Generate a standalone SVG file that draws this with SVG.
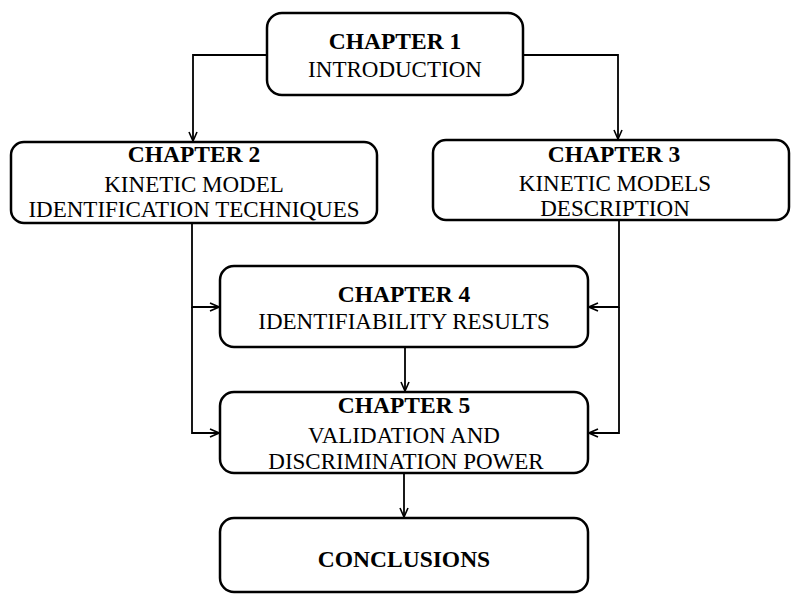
<svg xmlns="http://www.w3.org/2000/svg" width="793" height="594" viewBox="0 0 793 594">
<style>
.box{fill:#fff;stroke:#000;stroke-width:2.5}
.t{font-family:"Liberation Serif","Times New Roman",serif;fill:#000;text-anchor:middle}
.b{font-weight:bold;font-size:23.5px}
.r{font-size:23px}
.c{fill:none;stroke:#000;stroke-width:1.8}
</style>
<defs>
<marker id="ah" viewBox="0 0 10 10" refX="10" refY="5" markerWidth="10" markerHeight="10" markerUnits="userSpaceOnUse" orient="auto">
<polyline points="1,1 10,5 1,9" fill="none" stroke="#000" stroke-width="1.6"/>
</marker>
</defs>
<rect width="793" height="594" fill="#fff"/>
<g id="connectors">
<polyline class="c" points="267,55 193,55 193,141" marker-end="url(#ah)"/>
<polyline class="c" points="523,55 618,55 618,139" marker-end="url(#ah)"/>
<polyline class="c" points="192,223 192,307 219,307" marker-end="url(#ah)"/>
<polyline class="c" points="192,307 192,433 219,433" marker-end="url(#ah)"/>
<polyline class="c" points="619,220 619,307 589,307" marker-end="url(#ah)"/>
<polyline class="c" points="619,307 619,433 589,433" marker-end="url(#ah)"/>
<line class="c" x1="405" y1="347" x2="405" y2="391" marker-end="url(#ah)"/>
<line class="c" x1="404" y1="473" x2="404" y2="517" marker-end="url(#ah)"/>
</g>
<g id="ch1">
<rect class="box" x="267" y="13" width="256" height="82" rx="15"/>
<text class="t b" x="395" y="49">CHAPTER 1</text>
<text class="t r" x="395" y="77">INTRODUCTION</text>
</g>
<g id="ch2">
<rect class="box" x="11" y="142" width="366" height="81" rx="13"/>
<text class="t b" x="194" y="162">CHAPTER 2</text>
<text class="t r" x="194" y="192">KINETIC MODEL</text>
<text class="t r" x="194" y="217">IDENTIFICATION TECHNIQUES</text>
</g>
<g id="ch3">
<rect class="box" x="433" y="140" width="356" height="80" rx="13"/>
<text class="t b" x="614" y="162">CHAPTER 3</text>
<text class="t r" x="615" y="191">KINETIC MODELS</text>
<text class="t r" x="615" y="216">DESCRIPTION</text>
</g>
<g id="ch4">
<rect class="box" x="220" y="266" width="368" height="81" rx="14"/>
<text class="t b" x="404" y="302">CHAPTER 4</text>
<text class="t r" x="404" y="329">IDENTIFIABILITY RESULTS</text>
</g>
<g id="ch5">
<rect class="box" x="220" y="392" width="368" height="81" rx="14"/>
<text class="t b" x="404" y="413">CHAPTER 5</text>
<text class="t r" x="404" y="443">VALIDATION AND</text>
<text class="t r" x="406" y="469">DISCRIMINATION POWER</text>
</g>
<g id="conclusions">
<rect class="box" x="220" y="518" width="368" height="74" rx="14"/>
<text class="t b" x="404" y="567">CONCLUSIONS</text>
</g>
</svg>
